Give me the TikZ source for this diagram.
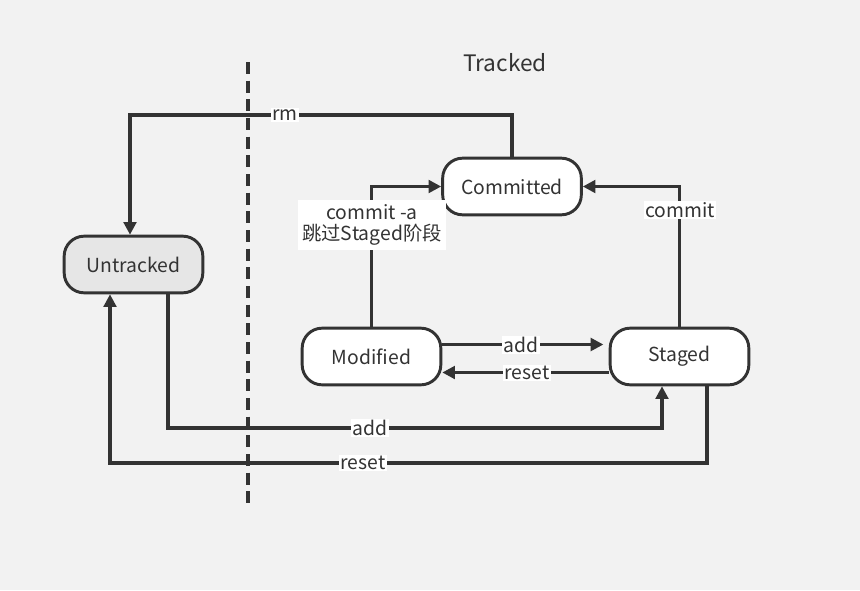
\documentclass[tikz,border=0pt]{standalone}
\usepackage{fontspec}
\setmainfont{Noto Sans CJK SC}
\usetikzlibrary{arrows.meta}
\definecolor{bg}{HTML}{F2F2F2}
\definecolor{ink}{HTML}{333333}
\definecolor{untr}{HTML}{E6E6E6}
\begin{document}
\begin{tikzpicture}[x=0.75pt,y=-0.75pt,
  font=\fontsize{14.5}{18}\selectfont, text=ink,
  state/.style={draw=ink, line width=2.2pt, fill=white, rounded corners=15pt,
    minimum width=104pt, minimum height=42.5pt, inner sep=0pt},
  conn/.style={draw=ink, line width=2.3pt, -{Triangle[length=9.5pt,width=9.5pt]}},
  lbl/.style={fill=white, inner sep=1.2pt, text=ink}]
\fill[bg] (0,0) rectangle (860,590);
\useasboundingbox (0,0) rectangle (860,590);
% divider
\draw[ink, line width=2.3pt, dash pattern=on 9pt off 5pt] (248,62) -- (248,508);
\node[font=\fontsize{17}{20}\selectfont] (tracked) at (505,63) {Tracked};
% states
\node[state, fill=untr] (untracked) at (133.5,264.5) {Untracked};
\node[state] (committed) at (512,186.5) {Committed};
\node[state] (modified) at (371.5,356.5) {Modified};
\node[state] (staged) at (679.5,356.5) {Staged};
% rm
\draw[conn] (committed.north) -- (512,115) -- (130,115) -- (untracked.north -| 130,0);
\node[lbl] (lrm) at (285,115) {rm};
% commit -a
\draw[conn] (modified.north) -- (371.5,186.5) -- (committed.west);
\node[lbl, align=center, inner sep=3pt] (lca) at (372,225) {commit -a\\[-2pt]跳过Staged阶段};
% commit
\draw[conn] (staged.north) -- (679.5,186.5) -- (committed.east);
\node[lbl] (lc) at (680,210) {commit};
% add / reset between Modified and Staged
\draw[conn] ([yshift=9pt]modified.east) -- ([yshift=9pt,xshift=-4pt]staged.west);
\node[lbl] (la1) at (521,345) {add};
\draw[conn] ([yshift=-12pt]staged.west) -- ([yshift=-12pt]modified.east);
\node[lbl] (lr1) at (527,373) {reset};
% add from Untracked to Staged
\draw[conn] (untracked.south -| 168,0) -- (168,428) -- (662,428) -- (staged.south -| 662,0);
\node[lbl] (la2) at (370,428) {add};
% reset from Staged to Untracked
\draw[conn] (staged.south -| 707,0) -- (707,463) -- (110,463) -- (untracked.south -| 110,0);
\node[lbl] (lr2) at (363,463) {reset};
\end{tikzpicture}
\end{document}
